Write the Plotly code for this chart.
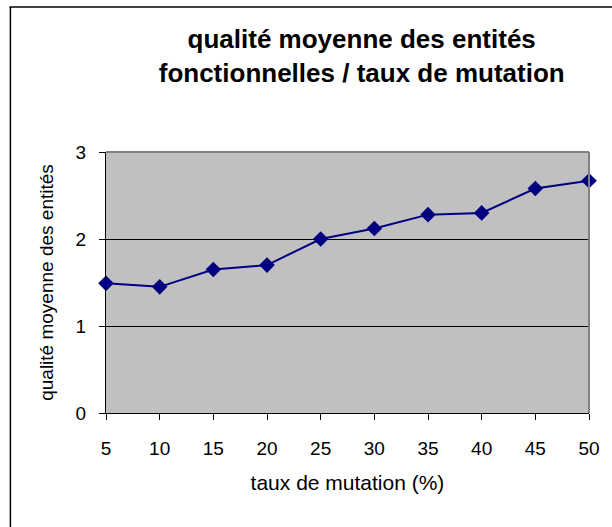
import plotly.graph_objects as go

# taux de mutation (%) et qualité moyenne mesurée
taux = [5, 10, 15, 20, 25, 30, 35, 40, 45, 50]
qualite = [1.49, 1.45, 1.65, 1.70, 2.00, 2.12, 2.28, 2.30, 2.58, 2.67]
y_ticks = [0, 1, 2, 3]

W, H = 612, 527
L, R, T, B = 106, 21, 152, 114
pw, ph = W - L - R, H - T - B

fig = go.Figure(
    go.Scatter(
        x=taux, y=qualite, mode="lines+markers",
        line=dict(color="#000080", width=2),
        marker=dict(symbol="diamond", size=12, color="#000080"),
        cliponaxis=False, showlegend=False,
    )
)

font = "Arial, Liberation Sans, sans-serif"

fig.update_layout(
    width=W, height=H,
    margin=dict(l=L, r=R, t=T, b=B, pad=0),
    paper_bgcolor="white", plot_bgcolor="#C0C0C0",
    font=dict(family=font, color="black"),
    title=dict(
        text="<b>qualité moyenne des entités<br>fonctionnelles / taux de mutation</b>",
        x=324 / W, xanchor="center", xref="paper", y=1 - 48 / H, yanchor="top",
        font=dict(size=26, family=font, color="black"),
    ),
    xaxis=dict(
        range=[5, 50], tickvals=taux, ticktext=[str(v) for v in taux],
        ticks="outside", ticklen=6, tickcolor="black", tickwidth=1,
        showline=True, linecolor="black", linewidth=1, showgrid=False,
        zeroline=False, tickfont=dict(size=19), ticklabelstandoff=12,
        title=dict(text="taux de mutation (%)", font=dict(size=21), standoff=17),
    ),
    yaxis=dict(
        range=[0, 3], tickvals=y_ticks,
        ticks="outside", ticklen=6, tickcolor="black", tickwidth=1,
        showline=True, linecolor="black", linewidth=1,
        showgrid=True, gridcolor="black", gridwidth=1, zeroline=False,
        tickfont=dict(size=19), ticklabelstandoff=9,
        title=dict(text="qualité moyenne des entités", font=dict(size=19), standoff=16),
    ),
    shapes=[
        # plot-area frame (top and right in grey)
        dict(type="line", xref="paper", yref="paper", x0=0, x1=1, y0=1, y1=1,
             line=dict(color="#808080", width=2), layer="above"),
        dict(type="line", xref="paper", yref="paper", x0=1, x1=1, y0=0, y1=1,
             line=dict(color="#808080", width=2), layer="above"),
        # chart-area border
        dict(type="line", xref="paper", yref="paper",
             x0=(9 - L) / pw, x1=(W + 5 - L) / pw,
             y0=(H - B - 7) / ph, y1=(H - B - 7) / ph,
             line=dict(color="black", width=1.5)),
        dict(type="line", xref="paper", yref="paper",
             x0=(10 - L) / pw, x1=(10 - L) / pw,
             y0=(H - B - 7) / ph, y1=(H - B - H - 5) / ph,
             line=dict(color="black", width=1.5)),
    ],
)

fig.write_html("out.html")
